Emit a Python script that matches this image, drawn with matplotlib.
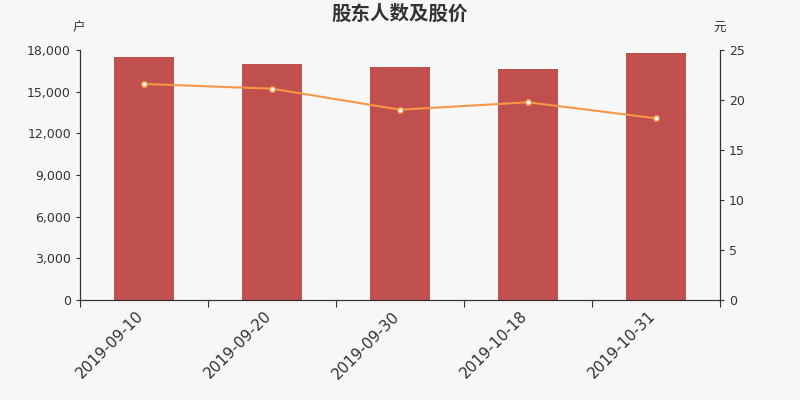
import matplotlib.pyplot as plt
import matplotlib.transforms as mtransforms
import numpy as np

plt.rcParams['font.family'] = ['DejaVu Sans', 'Noto Sans CJK SC']

dates = ["2019-09-10", "2019-09-20", "2019-09-30", "2019-10-18", "2019-10-31"]
holders = [17500, 16990, 16740, 16630, 17790]
price = [21.6, 21.13, 19.03, 19.77, 18.17]

bg = "#f7f7f7"
fig = plt.figure(figsize=(8, 4), dpi=100, facecolor=bg)
ax = fig.add_axes([0.1, 0.25, 0.8, 0.625], facecolor=bg)
x = np.arange(len(dates))
ax.bar(x, holders, width=0.47, color="#c0504d", zorder=2)
ax.set_xlim(-0.5, len(dates) - 0.5)
ax.set_ylim(0, 18000)
ax.set_yticks(np.arange(0, 18001, 3000))
ax.set_yticklabels([f"{v:,}" for v in range(0, 18001, 3000)])
ax.set_xticks(np.arange(-0.5, len(dates), 1))
ax.set_xticklabels([])
ax.set_xticks(x, minor=True)
ax.set_xticklabels(dates, minor=True, rotation=45, ha="right", va="center",
                   rotation_mode="anchor", fontsize=11, color="#333333")
ax.tick_params(axis="x", which="minor", length=0, pad=10)
ax.tick_params(axis="x", which="major", length=5, color="#333333")
ax.tick_params(axis="y", labelsize=9, colors="#333333", length=3)
shift = mtransforms.ScaledTranslation(-3 / 100, 0, fig.dpi_scale_trans)
for lbl in ax.get_xticklabels(minor=True):
    lbl.set_transform(lbl.get_transform() + shift)

ax2 = ax.twinx()
ax2.plot(x, price, color="#f79646", lw=1.5, marker="o", ms=4, mfc="white", mec="#f79646", mew=1, zorder=3)
ax2.set_ylim(0, 25)
ax2.set_yticks(range(0, 26, 5))
ax2.tick_params(axis="y", labelsize=9, colors="#333333", length=3)

for a in (ax, ax2):
    a.spines["top"].set_visible(False)
    for s in ("left", "right", "bottom"):
        a.spines[s].set_color("#333333")

cjk = ['Noto Sans CJK SC', 'DejaVu Sans']
fig.text(0.5, 0.965, "股东人数及股价", ha="center", va="center", fontsize=14,
         fontweight="bold", color="#333333", family=cjk)
fig.text(0.098, 0.93, "户", ha="center", va="center", fontsize=9, color="#333333", family=cjk)
fig.text(0.899, 0.928, "元", ha="center", va="center", fontsize=9, color="#333333", family=cjk)

fig.savefig("out.png", dpi=100, facecolor=bg)
